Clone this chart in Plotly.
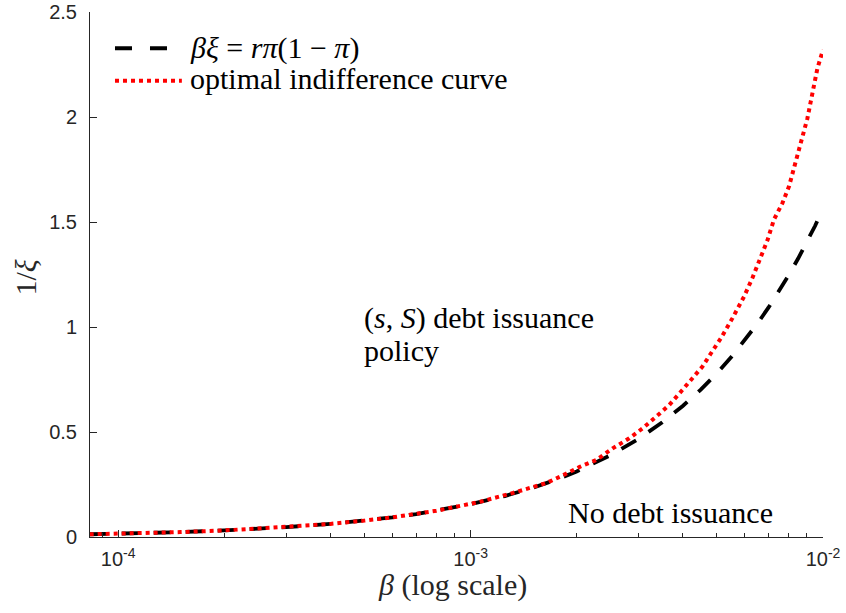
import plotly.graph_objects as go

# ---- data ----
beta_black = [8.3e-5, 1.0e-4, 1.25e-4, 1.5e-4, 2.0e-4, 2.5e-4, 3.0e-4, 4.0e-4, 5.0e-4, 6.0e-4,
              7.0e-4, 8.0e-4, 1.0e-3, 1.25e-3, 1.5e-3, 1.75e-3, 2.0e-3, 2.5e-3, 3.0e-3, 3.5e-3,
              4.0e-3, 4.5e-3, 5.0e-3, 5.5e-3, 6.0e-3, 6.5e-3, 7.0e-3, 7.5e-3, 8.0e-3, 8.5e-3,
              9.0e-3, 9.5e-3, 1.0e-2]
inv_xi_black = [0.013, 0.0156, 0.0195, 0.0234, 0.0312, 0.039, 0.0468, 0.0624, 0.078, 0.0936,
                0.109, 0.125, 0.156, 0.195, 0.234, 0.273, 0.312, 0.39, 0.468, 0.546,
                0.624, 0.702, 0.78, 0.858, 0.936, 1.014, 1.092, 1.17, 1.248, 1.326,
                1.404, 1.482, 1.565]

beta_red = [8.3e-5, 1.0e-4, 1.5e-4, 2.0e-4, 3.0e-4, 4.0e-4, 5.0e-4, 6.0e-4, 8.0e-4, 1.06e-3,
            1.32e-3, 1.64e-3, 1.83e-3, 2.04e-3, 2.27e-3, 2.53e-3, 2.82e-3, 3.08e-3, 3.36e-3,
            3.66e-3, 3.99e-3, 4.36e-3, 4.55e-3, 4.81e-3, 5.13e-3, 5.53e-3, 5.97e-3, 6.30e-3,
            6.59e-3, 6.96e-3, 7.26e-3, 7.67e-3, 8.01e-3, 8.28e-3, 8.55e-3, 8.84e-3, 9.03e-3,
            9.23e-3, 9.43e-3, 9.64e-3, 1.0e-2]
inv_xi_red = [0.013, 0.0156, 0.0234, 0.0312, 0.0468, 0.0624, 0.078, 0.0936, 0.125, 0.167,
              0.210, 0.257, 0.294, 0.334, 0.366, 0.422, 0.470, 0.518, 0.573,
              0.628, 0.700, 0.779, 0.812, 0.875, 0.946, 1.041, 1.145, 1.232,
              1.319, 1.414, 1.512, 1.590, 1.670, 1.758, 1.842, 1.922, 1.993,
              2.073, 2.152, 2.231, 2.32]

x_tickvals = [1e-4, 1e-3, 1e-2]
x_ticktext = ["10<sup>-4</sup>", "10<sup>-3</sup>", "10<sup>-2</sup>"]
x_minor = [9e-5] + [m * 1e-4 for m in range(2, 10)] + [m * 1e-3 for m in range(2, 10)]
y_tickvals = [0, 0.5, 1, 1.5, 2, 2.5]
y_ticktext = ["0", "0.5", "1", "1.5", "2", "2.5"]

legend_labels = ["<i>βξ</i> = <i>rπ</i>(1 − <i>π</i>)", "optimal indifference curve"]

SERIF = "Liberation Serif, Times New Roman, serif"
SANS = "Liberation Sans, Arial, sans-serif"
AXC = "#262626"
TXT = 30

fig = go.Figure()
fig.add_trace(go.Scatter(x=beta_black, y=inv_xi_black, mode="lines",
                         line=dict(color="black", width=3.8, dash="17px,15px"),
                         name=legend_labels[0], showlegend=False))
fig.add_trace(go.Scatter(x=beta_red, y=inv_xi_red, mode="lines",
                         line=dict(color="#ff0000", width=4, dash="4px,4px"),
                         name=legend_labels[1], showlegend=False))

# manual legend (inside top-left, no box)
fig.add_shape(type="line", xref="paper", yref="paper", x0=0.0341, x1=0.1253, y0=0.931, y1=0.931,
              line=dict(color="black", width=3.8, dash="17px,18px"))
fig.add_shape(type="line", xref="paper", yref="paper", x0=0.0341, x1=0.1253, y0=0.869, y1=0.869,
              line=dict(color="#ff0000", width=4, dash="4px,4px"))
fig.add_annotation(xref="paper", yref="paper", x=0.1335, y=0.931, xanchor="left", yanchor="middle",
                   text=legend_labels[0], showarrow=False, font=dict(family=SERIF, size=TXT, color="black"))
fig.add_annotation(xref="paper", yref="paper", x=0.1335, y=0.874, xanchor="left", yanchor="middle",
                   text=legend_labels[1], showarrow=False, font=dict(family=SERIF, size=TXT, color="black"))

# region labels
fig.add_annotation(x=-3.309, y=1.043, xanchor="left", yanchor="middle",
                   text="(<i>s</i>, <i>S</i>) debt issuance", showarrow=False,
                   font=dict(family=SERIF, size=TXT, color="black"))
fig.add_annotation(x=-3.309, y=0.890, xanchor="left", yanchor="middle",
                   text="policy", showarrow=False,
                   font=dict(family=SERIF, size=TXT, color="black"))
fig.add_annotation(x=-2.729, y=0.119, xanchor="left", yanchor="middle",
                   text="No debt issuance", showarrow=False,
                   font=dict(family=SERIF, size=TXT, color="black"))

# axis titles
fig.add_annotation(xref="paper", yref="paper", x=0.495, y=-0.0914, xanchor="center", yanchor="middle",
                   text="<i>β</i> (log scale)", showarrow=False,
                   font=dict(family=SERIF, size=TXT, color=AXC))
fig.add_annotation(xref="paper", yref="paper", x=-0.088, y=0.495, xanchor="center", yanchor="middle",
                   text="1/<i>ξ</i>", textangle=-90, showarrow=False,
                   font=dict(family=SERIF, size=TXT, color=AXC))

fig.update_layout(
    width=846, height=613,
    margin=dict(l=90, r=23, t=12, b=76),
    paper_bgcolor="white", plot_bgcolor="white",
    showlegend=False,
    xaxis=dict(type="log", range=[-4.080, -2.0], tickvals=x_tickvals, ticktext=x_ticktext,
               ticks="inside", ticklen=7, tickcolor=AXC, tickwidth=1, automargin=False,
               showline=True, linecolor=AXC, linewidth=1, showgrid=False, zeroline=False,
               tickfont=dict(family=SANS, size=20, color=AXC), ticklabelstandoff=4,
               minor=dict(tickvals=x_minor, ticks="inside", ticklen=4, tickcolor=AXC, showgrid=False)),
    yaxis=dict(range=[0, 2.5], tickvals=y_tickvals, ticktext=y_ticktext,
               ticks="inside", ticklen=7, tickcolor=AXC, tickwidth=1, automargin=False,
               showline=True, linecolor=AXC, linewidth=1, showgrid=False, zeroline=False,
               tickfont=dict(family=SANS, size=20, color=AXC), ticklabelstandoff=8),
)

fig.write_html("out.html", config={"displayModeBar": False},
               post_script="document.body.style.margin='0px';")
